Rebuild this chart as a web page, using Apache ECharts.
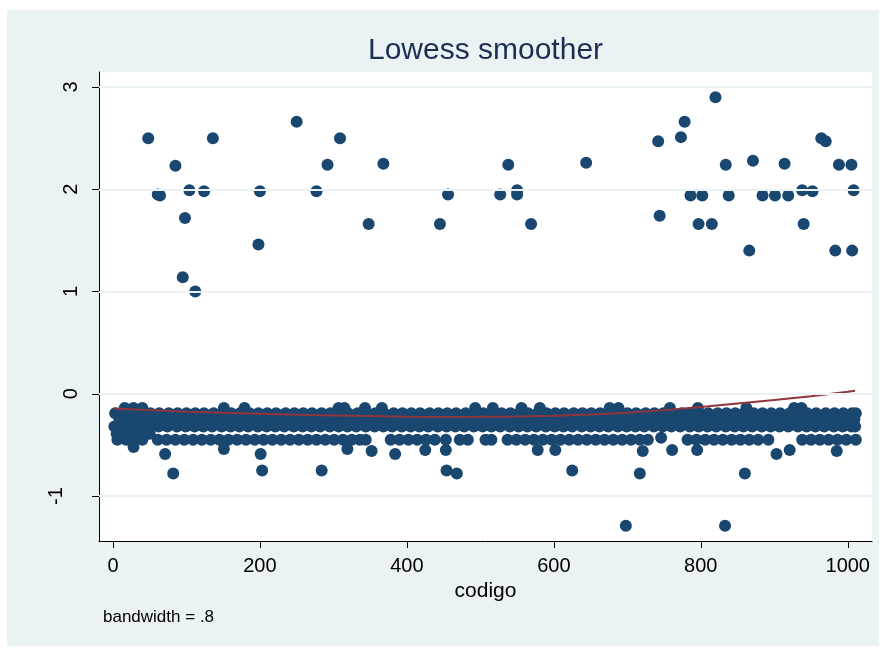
<!DOCTYPE html>
<html>
<head>
<meta charset="utf-8">
<script src="https://cdn.jsdelivr.net/npm/echarts@6.0.0/dist/echarts.min.js"></script>
<style>
html, body { margin: 0; padding: 0; background: #fff; }
#bg { position: absolute; left: 7px; top: 10px; width: 872px; height: 636px; background: #EAF2F3; }
#chart { position: absolute; left: 0; top: 0; width: 883px; height: 648px; }
</style>
</head>
<body>
<div id="bg"></div>
<div id="chart"></div>
<script>
// axis ticks
const xTicks = [0, 200, 400, 600, 800, 1000];
const yTicks = [-1, 0, 1, 2, 3];

// isolated points [codigo, value]
const upperPoints = [[48,2.50],[61,1.95],[64,1.94],[85,2.23],[95,1.14],[98,1.72],[104,1.99],[112,1.00],[124,1.98],[136,2.50],
  [198,1.46],[200,1.98],[250,2.66],[277,1.98],[292,2.24],[309,2.50],[348,1.66],[368,2.25],[445,1.66],[456,1.95],
  [527,1.95],[538,2.24],[550,1.99],[550,1.95],[569,1.66],[644,2.26],[742,2.47],[744,1.74],[773,2.51],[778,2.66],
  [786,1.94],[797,1.66],[802,1.94],[815,1.66],[820,2.90],[834,2.24],[838,1.94],[866,1.40],[871,2.28],[884,1.94],
  [901,1.94],[914,2.25],[919,1.94],[938,1.99],[940,1.66],[952,1.98],[964,2.50],[970,2.47],[983,1.40],[988,2.24],
  [1005,2.24],[1006,1.40],[1008,1.99]];
const lowerPoints = [[28,-0.52],[71,-0.59],[82,-0.78],[151,-0.54],[201,-0.59],[203,-0.75],[284,-0.75],[319,-0.54],
  [352,-0.56],[384,-0.59],[425,-0.55],[453,-0.55],[454,-0.75],[468,-0.78],[578,-0.55],[602,-0.55],[625,-0.75],
  [698,-1.29],[717,-0.78],[721,-0.56],[746,-0.43],[761,-0.55],[795,-0.55],[833,-1.29],[860,-0.78],[903,-0.59],
  [921,-0.55],[985,-0.56]];

// dense band just below zero: one value per row, codigo lists per row
const bandLevels = [-0.14, -0.19, -0.25, -0.32, -0.39, -0.45];
const rowTop = [16,28,40,151,179,307,315,343,366,493,517,556,581,676,688,758,796,862,927,937];
const rowB = [3,15,27,39,51,63,76,88,100,112,124,137,149,161,173,186,198,210,222,235,247,259,271,284,296,308,320,333,
  345,357,369,382,394,406,418,431,443,455,467,480,492,504,516,529,541,553,565,578,590,602,614,627,639,651,663,676,688,
  700,712,725,737,749,761,774,786,798,810,823,835,847,859,872,884,896,908,921,933,945,957,970,982,994,1006,1011];
const rowC = [9,21,33,45,57,70,82,94,106,118,131,143,155,167,180,192,204,216,229,241,253,265,278,290,302,314,327,339,
  351,363,376,388,400,412,425,437,449,461,474,486,498,510,523,535,547,559,572,584,596,608,621,633,645,657,670,682,694,
  706,719,731,743,755,768,780,792,804,817,829,841,853,866,878,890,902,915,927,939,951,964,976,988,1000,1009];
const rowD = [2,14,26,38,50,62,74,87,99,111,123,135,148,160,172,184,197,209,221,233,246,258,270,282,295,307,319,331,
  344,356,368,380,393,405,417,429,442,454,466,478,491,503,515,527,540,552,564,576,589,601,613,625,638,650,662,674,687,
  699,711,723,736,748,760,772,785,797,809,821,834,846,858,870,883,895,907,919,932,944,956,968,981,993,1005,1010];
const rowBridge = [5,17,29,41,50];
const rowLow = [6,18,29,40,61,73,85,97,109,121,133,145,157,169,181,193,205,217,229,241,253,265,277,289,301,313,325,336,
  344,378,390,402,414,426,438,453,472,483,507,515,537,549,561,573,585,597,609,621,633,645,657,669,681,693,705,717,728,
  782,794,806,818,830,842,854,866,878,892,938,950,962,974,986,998,1011];
const bandRows = [rowTop, rowB, rowC, rowD, rowBridge, rowLow];

// lowess curve
const lowessX = [1,50,100,150,200,250,300,350,400,450,500,550,600,650,700,750,800,850,900,950,1000,1010];
const lowessY = [-0.145,-0.16,-0.175,-0.185,-0.195,-0.205,-0.212,-0.218,-0.224,-0.227,-0.226,-0.222,-0.215,-0.203,
  -0.185,-0.16,-0.13,-0.095,-0.06,-0.025,0.02,0.03];

const font = '"Liberation Sans", Arial, sans-serif';
const scatterData = upperPoints.concat(lowerPoints);
bandRows.forEach((xs, i) => xs.forEach(x => scatterData.push([x, bandLevels[i]])));

const chart = echarts.init(document.getElementById('chart'), null, {renderer: 'canvas'});
const option = {
  animation: false,
  grid: {left: 99, right: 11, top: 72, bottom: 107, show: true, backgroundColor: '#fff', borderWidth: 0},
  graphic: [
    {type: 'text', x: 485.5, y: 51, style: {text: 'Lowess smoother', fontSize: 30, fontFamily: font,
      fill: '#1E2D53', align: 'center', verticalAlign: 'middle'}},
    {type: 'text', x: 103, y: 617, style: {text: 'bandwidth = .8', fontSize: 17, fontFamily: font,
      fill: '#000', align: 'left', verticalAlign: 'middle'}}
  ],
  xAxis: {
    type: 'value', min: -19, max: 1033,
    axisLine: {show: true, onZero: false, lineStyle: {color: '#000', width: 1}},
    axisTick: {show: true, length: 7, customValues: xTicks, lineStyle: {color: '#000'}},
    axisLabel: {customValues: xTicks, formatter: v => String(v), fontSize: 20, color: '#000', margin: 15, fontFamily: font},
    splitLine: {show: false},
    name: 'codigo', nameLocation: 'middle', nameGap: 36,
    nameTextStyle: {fontSize: 21, color: '#000', fontFamily: font}
  },
  yAxis: {
    type: 'value', min: -1.44, max: 3.147,
    axisLine: {show: true, onZero: false, lineStyle: {color: '#000', width: 1}},
    axisTick: {show: true, length: 7, customValues: yTicks, lineStyle: {color: '#000'}},
    axisLabel: {
      customValues: yTicks, rotate: 90, fontSize: 20, color: '#000', margin: 18, fontFamily: font,
      formatter: v => v < 0 ? '{n|' + v + '}\n{g| }' : '{n|' + v + '}',
      rich: {n: {fontSize: 20, color: '#000', fontFamily: font}, g: {fontSize: 2, lineHeight: 15}}
    },
    splitLine: {show: false}
  },
  series: [
    {
      type: 'line', data: [], z: 1, silent: true,
      markLine: {
        silent: true, symbol: ['none', 'none'], label: {show: false},
        lineStyle: {color: '#EAF2F3', width: 2, type: 'solid'},
        emphasis: {disabled: true},
        data: yTicks.map(v => ({yAxis: v}))
      }
    },
    {
      type: 'scatter', data: scatterData, symbol: 'circle', symbolSize: 12, z: 2,
      itemStyle: {color: '#1A476F', opacity: 1}
    },
    {
      type: 'line', data: lowessX.map((x, i) => [x, lowessY[i]]), showSymbol: false, z: 3,
      lineStyle: {color: '#90353B', width: 2}
    }
  ]
};
chart.setOption(option);
</script>
</body>
</html>
